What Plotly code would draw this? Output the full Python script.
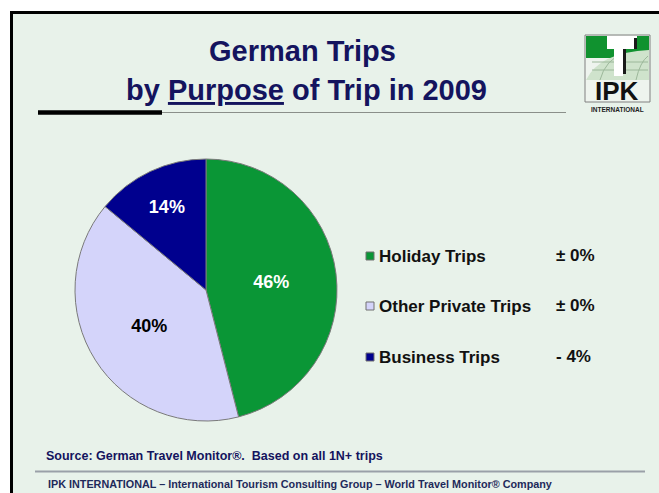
import plotly.graph_objects as go

# ---- data ----
categories = ["Holiday Trips", "Other Private Trips", "Business Trips"]
shares = [46, 40, 14]
changes = ["± 0%", "± 0%", "- 4%"]
colors = ["#0a9636", "#d4d4fa", "#00008e"]
label_colors = ["white", "black", "white"]

W, H = 659, 493
BG = "#e8f2ea"
NAVY = "#14145e"


def px(x):
    return x / W


def py(y):
    return 1 - y / H


fig = go.Figure()
fig.add_trace(go.Pie(
    labels=categories,
    values=shares,
    text=[f"<b>{v}%</b>" for v in shares],
    textinfo="text",
    textposition="inside",
    insidetextorientation="horizontal",
    textfont=dict(family="Liberation Sans, Arial", size=18, color=label_colors),
    marker=dict(colors=colors, line=dict(color="#7a7a7a", width=1)),
    sort=False,
    direction="clockwise",
    rotation=0,
    showlegend=False,
    hoverinfo="label+percent",
    domain=dict(x=[px(75), px(337)], y=[py(421), py(159)]),
))

shapes = []
# slide background and frame
shapes.append(dict(type="rect", xref="paper", yref="paper", x0=px(10), x1=1, y0=0, y1=py(11),
                   fillcolor=BG, line=dict(width=0), layer="below"))
shapes.append(dict(type="line", xref="paper", yref="paper", x0=px(10), x1=1, y0=py(12.5), y1=py(12.5),
                   line=dict(color="black", width=3)))
shapes.append(dict(type="line", xref="paper", yref="paper", x0=px(11.5), x1=px(11.5), y0=0, y1=py(11),
                   line=dict(color="black", width=3)))
# title rule
shapes.append(dict(type="line", xref="paper", yref="paper", x0=px(160), x1=px(566), y0=py(112.5), y1=py(112.5),
                   line=dict(color="#8a8f8a", width=1)))
shapes.append(dict(type="line", xref="paper", yref="paper", x0=px(38), x1=px(162), y0=py(112.5), y1=py(112.5),
                   line=dict(color="black", width=4.5)))
# footer rule
shapes.append(dict(type="line", xref="paper", yref="paper", x0=px(35), x1=px(645), y0=py(471.5), y1=py(471.5),
                   line=dict(color="#9aa0a8", width=2)))

# logo
shapes.append(dict(type="rect", xref="paper", yref="paper", x0=px(585), x1=px(650), y0=py(102), y1=py(35),
                   fillcolor="#eef4ee", line=dict(color="#808080", width=1)))
shapes.append(dict(type="rect", xref="paper", yref="paper", x0=px(586), x1=px(649), y0=py(58), y1=py(36),
                   fillcolor="#10922f", line=dict(width=0)))
shapes.append(dict(type="path", xref="paper", yref="paper",
                   path=f"M {px(586)},{py(80)} Q {px(600)},{py(52)} {px(649)},{py(50)} L {px(649)},{py(80)} Z",
                   fillcolor="#cfe3cc", line=dict(width=0)))
for yy in (62, 70):
    shapes.append(dict(type="line", xref="paper", yref="paper", x0=px(592), x1=px(648), y0=py(yy), y1=py(yy),
                       line=dict(color="#9cb89a", width=1)))
shapes.append(dict(type="path", xref="paper", yref="paper",
                   path=f"M {px(600)},{py(80)} Q {px(605)},{py(60)} {px(625)},{py(52)}",
                   line=dict(color="#9cb89a", width=1)))
shapes.append(dict(type="path", xref="paper", yref="paper",
                   path=f"M {px(636)},{py(80)} Q {px(640)},{py(62)} {px(648)},{py(56)}",
                   line=dict(color="#9cb89a", width=1)))
# the "T"
shapes.append(dict(type="rect", xref="paper", yref="paper", x0=px(607), x1=px(637), y0=py(49), y1=py(36),
                   fillcolor="white", line=dict(width=0)))
shapes.append(dict(type="rect", xref="paper", yref="paper", x0=px(614), x1=px(623), y0=py(76), y1=py(49),
                   fillcolor="white", line=dict(width=0)))
shapes.append(dict(type="rect", xref="paper", yref="paper", x0=px(623), x1=px(626), y0=py(74), y1=py(49),
                   fillcolor="#1a1a1a", line=dict(width=0)))
shapes.append(dict(type="rect", xref="paper", yref="paper", x0=px(634), x1=px(637), y0=py(49), y1=py(38),
                   fillcolor="#1a1a1a", line=dict(width=0)))

annotations = []
annotations.append(dict(text="<b>German Trips</b>", x=px(302), y=py(51), xref="paper", yref="paper",
                        showarrow=False, xanchor="center", yanchor="middle",
                        font=dict(family="Liberation Sans, Arial", size=29, color=NAVY)))
annotations.append(dict(text="<b>by <u>Purpose</u> of Trip in 2009</b>", x=px(306), y=py(90), xref="paper",
                        yref="paper", showarrow=False, xanchor="center", yanchor="middle",
                        font=dict(family="Liberation Sans, Arial", size=29, color=NAVY)))
annotations.append(dict(text="<b>IPK</b>", x=px(617), y=py(91), xref="paper", yref="paper", showarrow=False,
                        xanchor="center", yanchor="middle",
                        font=dict(family="Liberation Sans, Arial", size=26, color="#111111")))
annotations.append(dict(text="<b>INTERNATIONAL</b>", x=px(617), y=py(110), xref="paper", yref="paper",
                        showarrow=False, xanchor="center", yanchor="middle",
                        font=dict(family="Liberation Sans Narrow, Liberation Sans, Arial", size=6.5, color="#222222")))

# custom legend
legend_y = [256, 306, 357]
for cat, ch, col, ly in zip(categories, changes, colors, legend_y):
    shapes.append(dict(type="rect", xref="paper", yref="paper", x0=px(366), x1=px(374),
                       y0=py(ly + 4), y1=py(ly - 4), fillcolor=col, line=dict(color="#707070", width=1)))
    annotations.append(dict(text=f"<b>{cat}</b>", x=px(377), y=py(ly), xref="paper", yref="paper",
                            showarrow=False, xanchor="left", yanchor="middle",
                            font=dict(family="Liberation Sans, Arial", size=17, color="#111111")))
    annotations.append(dict(text=f"<b>{ch}</b>", x=px(554), y=py(ly - 1), xref="paper", yref="paper",
                            showarrow=False, xanchor="left", yanchor="middle",
                            font=dict(family="Liberation Sans, Arial", size=17, color="#111111")))

annotations.append(dict(text="<b>Source: German Travel Monitor®.  Based on all 1N+ trips</b>",
                        x=px(44), y=py(456), xref="paper", yref="paper", showarrow=False,
                        xanchor="left", yanchor="middle",
                        font=dict(family="Liberation Sans, Arial", size=12.5, color=NAVY)))
annotations.append(dict(text="<b>IPK INTERNATIONAL – International Tourism Consulting Group – World Travel Monitor® Company</b>",
                        x=px(46), y=py(484), xref="paper", yref="paper", showarrow=False,
                        xanchor="left", yanchor="middle",
                        font=dict(family="Liberation Sans, Arial", size=10.8, color="#1e2a5a")))

fig.update_layout(
    width=W, height=H,
    margin=dict(l=0, r=0, t=0, b=0),
    paper_bgcolor="white",
    plot_bgcolor="white",
    shapes=shapes,
    annotations=annotations,
)

fig.write_html("out.html", config={"displayModeBar": False},
               post_script="document.body.style.margin='0';document.body.style.overflow='hidden';")
